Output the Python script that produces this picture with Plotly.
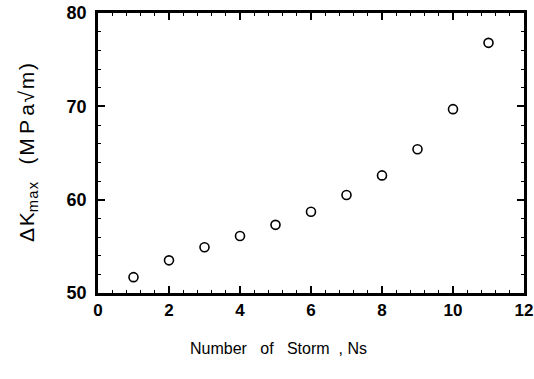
import plotly.graph_objects as go

# Number of storms and corresponding maximum stress-intensity range
storms = [1, 2, 3, 4, 5, 6, 7, 8, 9, 10, 11]
dk_max = [51.7, 53.5, 54.9, 56.1, 57.3, 58.7, 60.5, 62.6, 65.4, 69.7, 76.8]

x_ticks = [0, 2, 4, 6, 8, 10, 12]
y_ticks = [50, 60, 70, 80]

TS = "\u2009"  # thin space for letter spacing
HS = "\u200a"  # hair space
x_title = "Number\u00a0\u00a0 of\u00a0\u00a0 Storm\u00a0 , Ns"
y_title = (
    f"\u0394{HS}K<sub>m{HS}a{HS}x</sub>\u00a0\u00a0\u00a0"
    f"({HS}M{TS}P{TS}a{HS}\u221a{HS}m{HS})"
)

FONT = "Liberation Sans, Arial, sans-serif"

fig = go.Figure(
    go.Scatter(
        x=storms,
        y=dk_max,
        mode="markers",
        marker=dict(symbol="circle-open", size=9, color="black", line=dict(width=1.6, color="black")),
        showlegend=False,
    )
)

common = dict(
    ticks="inside",
    ticklen=7,
    tickwidth=1.5,
    tickcolor="black",
    showline=True,
    linewidth=2.5,
    linecolor="black",
    mirror="ticks",
    showgrid=False,
    zeroline=False,
    automargin=False,
)

fig.update_xaxes(
    range=[0, 12],
    tickvals=x_ticks,
    tickfont=dict(family=FONT, size=17, color="black", weight="bold"),
    minor=dict(dtick=0.4, ticks="inside", ticklen=3, tickwidth=1.2, tickcolor="black"),
    **common,
)
fig.update_yaxes(
    range=[50, 80],
    tickvals=y_ticks,
    ticklabelstandoff=5,
    tickfont=dict(family=FONT, size=18, color="black", weight="bold"),
    minor=dict(dtick=2, ticks="inside", ticklen=3, tickwidth=1.2, tickcolor="black"),
    **common,
)

# axis titles placed as annotations
fig.add_annotation(
    text=x_title, xref="paper", yref="paper", x=0.423, y=0,
    xanchor="center", yanchor="middle", yshift=-55, showarrow=False,
    font=dict(family=FONT, size=16, color="black"),
)
fig.add_annotation(
    text=y_title, xref="paper", yref="paper", x=0, y=0.5,
    xanchor="center", yanchor="middle", xshift=-70, textangle=-90, showarrow=False,
    font=dict(family=FONT, size=21, color="black"),
)

fig.update_layout(
    width=534,
    height=379,
    margin=dict(l=98, r=10, t=13, b=86),
    paper_bgcolor="white",
    plot_bgcolor="white",
)

fig.write_html("out.html")
